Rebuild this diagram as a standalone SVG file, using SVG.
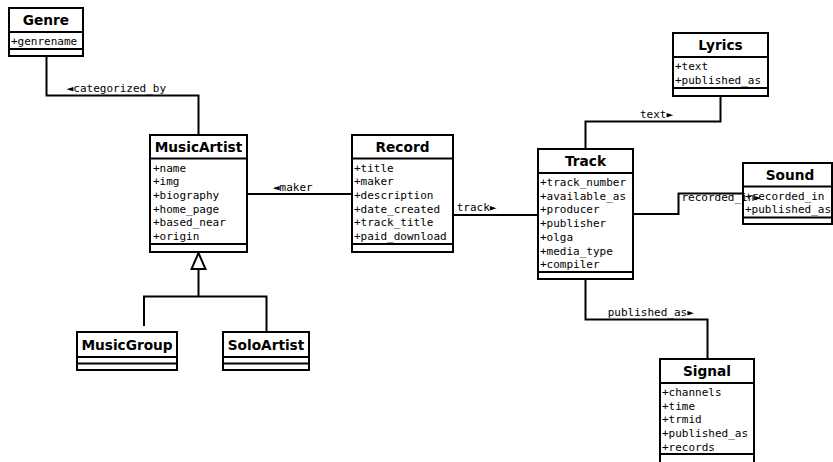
<svg xmlns="http://www.w3.org/2000/svg" width="833" height="462" viewBox="0 0 833 462">
<style>
.box{fill:#fff;stroke:#000;stroke-width:2}
.ln{stroke:#000;stroke-width:2;fill:none}
.hd{font-family:"DejaVu Sans",sans-serif;font-weight:bold;font-size:13.7px;text-anchor:middle;fill:#000}
.at{font-family:"DejaVu Sans Mono",monospace;font-size:11px;fill:#000}
.lb{font-family:"DejaVu Sans Mono",monospace;font-size:11px;fill:#000}
</style>
<rect width="833" height="462" fill="#fff"/>
<g id="connectors">
<path class="ln" d="M46.5 56 V95.5 H198.5 V135"/>
<text class="lb" x="66.7" y="92">◄categorized_by</text>
<path class="ln" d="M247 194 H352"/>
<text class="lb" x="273" y="190.5">◄maker</text>
<path class="ln" d="M453 215 H538"/>
<text class="lb" x="456.7" y="211">track►</text>
<path class="ln" d="M720.5 96 V121.5 H585.5 V149"/>
<text class="lb" x="640" y="117.5">text►</text>
<path class="ln" d="M633 214 H678.5 V193.5 H743"/>
<path class="ln" d="M585.5 279 V319.5 H707.5 V359"/>
<text class="lb" x="607.7" y="316">published_as►</text>
<polygon points="198.5,253 191.5,269 205.5,269" fill="#fff" stroke="#000" stroke-width="2"/>
<path class="ln" d="M198.5 269 V296.5"/>
<path class="ln" d="M144 326 V296.5 H266.5 V332"/>
</g>
<g id="Genre">
<rect class="box" x="9" y="8" width="74" height="48"/>
<path class="ln" d="M9 32 H83 M9 49 H83"/>
<text class="hd" x="46" y="25">Genre</text>
<text class="at" x="11" y="45">+genrename</text>
</g>
<g id="MusicArtist">
<rect class="box" x="150" y="135" width="97" height="117"/>
<path class="ln" d="M150 158.5 H247 M150 244 H247"/>
<text class="hd" x="198.5" y="151.7">MusicArtist</text>
<text class="at" x="153" y="171.5">+name</text>
<text class="at" x="153" y="185.2">+img</text>
<text class="at" x="153" y="198.9">+biography</text>
<text class="at" x="153" y="212.6">+home_page</text>
<text class="at" x="153" y="226.3">+based_near</text>
<text class="at" x="153" y="240">+origin</text>
</g>
<g id="Record">
<rect class="box" x="352" y="135" width="101" height="117"/>
<path class="ln" d="M352 158.5 H453 M352 244 H453"/>
<text class="hd" x="402.5" y="151.7">Record</text>
<text class="at" x="354" y="171.5">+title</text>
<text class="at" x="354" y="185.2">+maker</text>
<text class="at" x="354" y="198.9">+description</text>
<text class="at" x="354" y="212.6">+date_created</text>
<text class="at" x="354" y="226.3">+track_title</text>
<text class="at" x="354" y="240">+paid_download</text>
</g>
<g id="Track">
<rect class="box" x="538" y="149" width="95" height="130"/>
<path class="ln" d="M538 173 H633 M538 272 H633"/>
<text class="hd" x="585.5" y="166">Track</text>
<text class="at" x="540" y="186">+track_number</text>
<text class="at" x="540" y="199.7">+available_as</text>
<text class="at" x="540" y="213.4">+producer</text>
<text class="at" x="540" y="227.1">+publisher</text>
<text class="at" x="540" y="240.8">+olga</text>
<text class="at" x="540" y="254.5">+media_type</text>
<text class="at" x="540" y="268.2">+compiler</text>
</g>
<g id="Lyrics">
<rect class="box" x="673" y="33" width="95" height="63"/>
<path class="ln" d="M673 57 H768 M673 88 H768"/>
<text class="hd" x="720.5" y="50">Lyrics</text>
<text class="at" x="675" y="70">+text</text>
<text class="at" x="675" y="83.7">+published_as</text>
</g>
<g id="Sound">
<rect class="box" x="743" y="163" width="89" height="61"/>
<path class="ln" d="M743 186.5 H832 M743 217.5 H832"/>
<text class="hd" x="790" y="180">Sound</text>
<text class="at" x="745" y="199.5">+recorded_in</text>
<text class="at" x="745" y="213.2">+published_as</text>
</g>
<text class="lb" x="681.5" y="201">recorded_in►</text>
<g id="Signal">
<rect class="box" x="660" y="359" width="94" height="110"/>
<path class="ln" d="M660 383 H754 M660 454 H754"/>
<text class="hd" x="707" y="376">Signal</text>
<text class="at" x="662" y="396">+channels</text>
<text class="at" x="662" y="409.7">+time</text>
<text class="at" x="662" y="423.4">+trmid</text>
<text class="at" x="662" y="437.1">+published_as</text>
<text class="at" x="662" y="450.8">+records</text>
</g>
<g id="MusicGroup">
<rect class="box" x="77" y="332" width="100" height="38"/>
<path class="ln" d="M77 357 H177 M77 363.5 H177"/>
<text class="hd" x="127" y="349.5">MusicGroup</text>
</g>
<g id="SoloArtist">
<rect class="box" x="223" y="332" width="86" height="38"/>
<path class="ln" d="M223 357 H309 M223 363.5 H309"/>
<text class="hd" x="266" y="349.5">SoloArtist</text>
</g>
</svg>
